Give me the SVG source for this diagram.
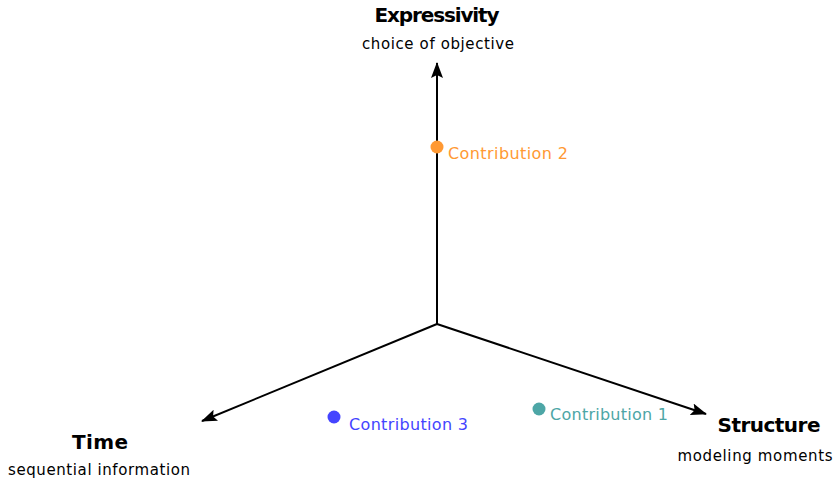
<svg xmlns="http://www.w3.org/2000/svg" width="838" height="481" viewBox="0 0 838 481">
<style>
.axis{stroke:#000;stroke-width:2;fill:none}
.title{font-family:"DejaVu Sans","Liberation Sans",sans-serif;font-weight:bold;font-size:20px;fill:#000;text-anchor:middle}
.sub{font-family:"DejaVu Sans","Liberation Sans",sans-serif;font-size:15px;fill:#000;text-anchor:middle}
.lbl{font-family:"DejaVu Sans","Liberation Sans",sans-serif;font-size:16px}
</style>
<defs>
<marker id="ah" viewBox="0 0 16 12" refX="15" refY="6" markerWidth="16" markerHeight="12" markerUnits="userSpaceOnUse" orient="auto">
<path d="M0,0 L16,6 L0,12 L3,6 Z" fill="#000"/>
</marker>
</defs>
<rect width="838" height="481" fill="#fff"/>
<g id="connectors">
<line class="axis" x1="437" y1="324" x2="437" y2="63" marker-end="url(#ah)"/>
<line class="axis" x1="437" y1="324" x2="202" y2="421" marker-end="url(#ah)"/>
<line class="axis" x1="437" y1="324" x2="706" y2="414" marker-end="url(#ah)"/>
</g>
<g id="expressivity">
<text class="title" x="437" y="22" textLength="125">Expressivity</text>
<text class="sub" x="438" y="49" textLength="152">choice of objective</text>
</g>
<g id="time">
<text class="title" x="100" y="449" textLength="56">Time</text>
<text class="sub" x="99" y="475" textLength="182">sequential information</text>
</g>
<g id="structure">
<text class="title" x="769" y="432" textLength="103">Structure</text>
<text class="sub" x="755" y="461" textLength="155">modeling moments</text>
</g>
<g id="contribution2">
<circle cx="437" cy="147" r="6.5" fill="#FF9933"/>
<text class="lbl" x="448" y="159" fill="#FF9933" textLength="120">Contribution 2</text>
</g>
<g id="contribution3">
<circle cx="334" cy="417" r="6.5" fill="#4444FF"/>
<text class="lbl" x="349" y="430" fill="#4444FF" textLength="119">Contribution 3</text>
</g>
<g id="contribution1">
<circle cx="539" cy="409" r="6.5" fill="#4DA6A6"/>
<text class="lbl" x="550" y="420" fill="#4DA6A6" textLength="118">Contribution 1</text>
</g>
</svg>
